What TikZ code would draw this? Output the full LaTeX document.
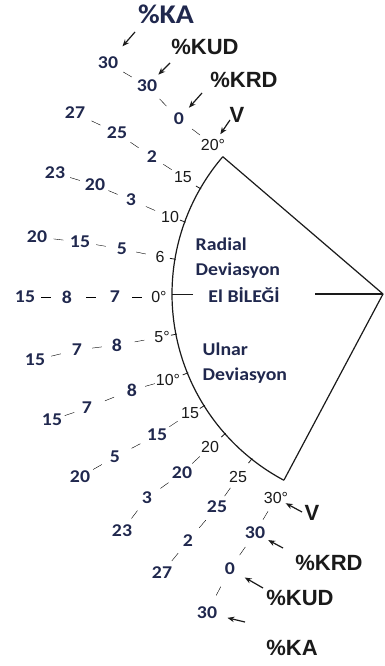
\documentclass[tikz,border=0pt]{standalone}
\usepackage{fontspec}
\setmainfont{Carlito}
\newfontfamily\numface[FakeStretch=1.1]{Carlito}
\newfontfamily\arcface{Liberation Sans}
\newfontfamily\labface{Liberation Sans}
\usetikzlibrary{arrows.meta,calc}
\definecolor{navy}{HTML}{20284E}
\definecolor{ink}{HTML}{1A1A1A}
\tikzset{
  num/.style={font=\numface\bfseries\fontsize{18}{20}\selectfont, text=navy, inner sep=0.5pt},
  txt/.style={font=\numface\bfseries\fontsize{18}{20}\selectfont, text=navy, inner sep=0.5pt},
  arcl/.style={font=\arcface\fontsize{16}{18}\selectfont, text=ink, inner sep=0.5pt},
  lab/.style={font=\labface\bfseries\fontsize{22}{24}\selectfont, text=ink, inner sep=0.5pt},
  labtop/.style={font=\numface\bfseries\fontsize{27}{29}\selectfont, text=navy, inner sep=0.5pt},
  wedge/.style={draw=ink, line width=1.2pt, line join=round},
  dl/.style={draw=ink, line width=1pt,
    to path={($(\tikztostart)!.5!(\tikztotarget)!5pt!(\tikztostart)$) -- ($(\tikztostart)!.5!(\tikztotarget)!5pt!(\tikztotarget)$)}},
  pt/.style={to path={(\tikztostart) -- ($(\tikztotarget)!#1!(\tikztostart)$)}},
  ptr/.style={draw=ink, line width=1.2pt, -{Stealth[length=7pt,width=5.5pt]}},
}
\begin{document}
\begin{tikzpicture}[x=1pt,y=-1pt]
\useasboundingbox[fill=white] (0,0) rectangle (384,666);
% wedge
\coordinate (V) at (383,294);
\coordinate (T) at (222.8,156.7);
\coordinate (B) at (284,480);
\coordinate (H) at (315,294);
\draw[wedge] (T) -- (V) -- (B);
\draw[wedge] plot[domain=118:220.6, samples=90, smooth] ({383+211*cos(\x)},{294+211*sin(\x)});
\draw[wedge] (H) -- (V);
\draw[wedge, line width=0.9pt] ($(V)+(180:190)$) -- ($(V)+(180:211)$);
\foreach \a in {210,200,189.5,169,158,148,138.5,128.5}
  \draw[wedge, line width=0.8pt] ($(V)+(\a:210)$) -- ($(V)+(\a:216)$);
% texts inside
\node[txt, anchor=base west] (rad1) at (195,250) {Radial};
\node[txt, anchor=base west] (rad2) at (195,275) {Deviasyon};
\node[txt, anchor=base] (wrist) at (244,302) {El BİLEĞİ};
\node[txt, anchor=base west] (uln1) at (202,355) {Ulnar};
\node[txt, anchor=base west] (uln2) at (202,380) {Deviasyon};
% rows
\node[num] (n1a) at (108,63) {30};
\node[num] (n1b) at (147,86) {30};
\node[num] (n1c) at (179,119) {0};
\node[arcl] (a1) at (213,145) {20°};
\node[num] (n2a) at (75,113) {27};
\node[num] (n2b) at (117,133) {25};
\node[num] (n2c) at (152,157) {2};
\node[arcl] (a2) at (183,177) {15};
\node[num] (n3a) at (55,173) {23};
\node[num] (n3b) at (95,185) {20};
\node[num] (n3c) at (131,200) {3};
\node[arcl] (a3) at (170,217) {10};
\node[num] (n4a) at (37,237) {20};
\node[num] (n4b) at (80,242) {15};
\node[num] (n4c) at (122,249) {5};
\node[arcl] (a4) at (160,257) {6};
\node[num] (n5a) at (25,297) {15};
\node[num] (n5b) at (67,297) {8};
\node[num] (n5c) at (115,297) {7};
\node[arcl] (a5) at (159,297) {0°};
\node[num] (n6a) at (35,360) {15};
\node[num] (n6b) at (77,350) {7};
\node[num] (n6c) at (117,345) {8};
\node[arcl] (a6) at (162,337) {5°};
\node[num] (n7a) at (52,420) {15};
\node[num] (n7b) at (87,408) {7};
\node[num] (n7c) at (132,390) {8};
\node[arcl] (a7) at (168,380) {10°};
\node[num] (n8a) at (80,477) {20};
\node[num] (n8b) at (115,457) {5};
\node[num] (n8c) at (157,435) {15};
\node[arcl] (a8) at (190,413) {15};
\node[num] (n9a) at (122,531) {23};
\node[num] (n9b) at (147,498) {3};
\node[num] (n9c) at (182,473) {20};
\node[arcl] (a9) at (210,447) {20};
\node[num] (n10a) at (162,573) {27};
\node[num] (n10b) at (188,541) {2};
\node[num] (n10c) at (217,507) {25};
\node[arcl] (a10) at (238,477) {25};
\node[num] (n11a) at (207,613) {30};
\node[num] (n11b) at (230,569) {0};
\node[num] (n11c) at (255,533) {30};
\node[arcl] (a11) at (276,498) {30°};
\foreach \r in {1,...,11}{
  \draw (n\r a) to[dl] (n\r b);
  \draw (n\r b) to[dl] (n\r c);
  \draw (n\r c) to[dl] (a\r);
}
% labels
\node[labtop] (kat) at (166,14) {\%KA};
\node[lab] (kudt) at (205,47) {\%KUD};
\node[lab] (krdt) at (244,80) {\%KRD};
\node[lab] (vt) at (237,115) {V};
\node[lab] (vb) at (312,513) {V};
\node[lab] (krdb) at (329,563) {\%KRD};
\node[lab] (kudb) at (300,598) {\%KUD};
\node[lab] (kab) at (292,648) {\%KA};
% arrows
\coordinate (katail) at (135,32);
\coordinate (kudtail) at (170,63);
\coordinate (krdtail) at (202,93);
\coordinate (vttail) at (230,120);
\coordinate (vbtail) at (302,512);
\coordinate (krdbtail) at (283,548);
\coordinate (kudbtail) at (263,588);
\coordinate (kabtail) at (245,622);
\draw[ptr] (katail) to[pt=22pt] (n1a);
\draw[ptr] (kudtail) to[pt=16pt] (n1b);
\draw[ptr] (krdtail) to[pt=15pt] (n1c);
\draw[ptr] (vttail) to[pt=13pt] (a1);
\draw[ptr] (vbtail) to[pt=11pt] (a11);
\draw[ptr] (krdbtail) to[pt=15pt] (n11c);
\draw[ptr] (kudbtail) to[pt=17pt] (n11b);
\draw[ptr] (kabtail) to[pt=21pt] (n11a);
\end{tikzpicture}
\end{document}
